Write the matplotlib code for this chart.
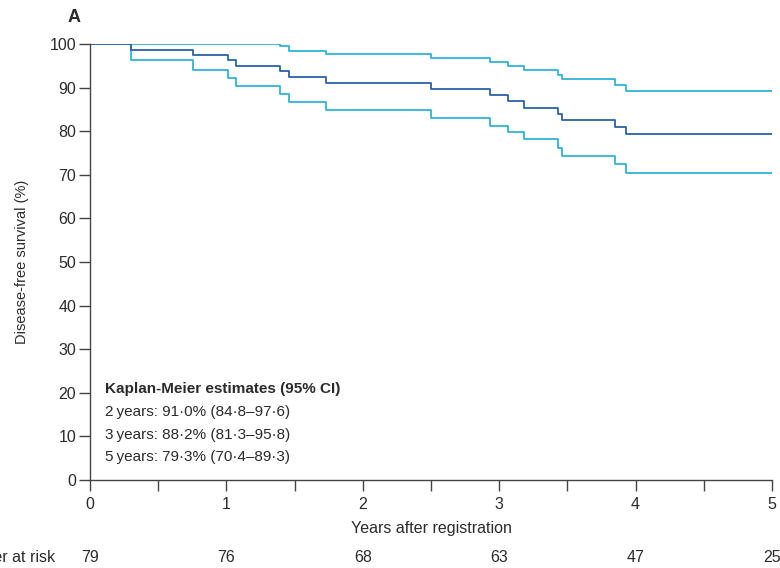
import matplotlib.pyplot as plt
from matplotlib.ticker import MultipleLocator
from matplotlib.transforms import blended_transform_factory

plt.rcParams['font.family'] = ['Liberation Sans Narrow', 'Liberation Sans', 'DejaVu Sans']

# step times (years) and survival estimates (%)
times = [0, 0.298, 0.753, 1.014, 1.07, 1.393, 1.459, 1.73, 2.497, 2.93, 3.065,
         3.184, 3.431, 3.463, 3.849, 3.927, 5]
surv = [100, 98.7, 97.5, 96.3, 95.0, 93.7, 92.4, 91.0, 89.7, 88.2, 86.9,
        85.4, 83.9, 82.6, 80.9, 79.3, 79.3]
upper = [100, 100, 100, 100, 100, 99.6, 98.5, 97.6, 96.7, 95.8, 95.0,
         94.0, 92.8, 91.9, 90.7, 89.3, 89.3]
lower = [100, 96.4, 94.0, 92.1, 90.4, 88.6, 86.8, 84.8, 83.1, 81.3, 79.8,
         78.1, 76.1, 74.3, 72.5, 70.4, 70.4]

risk_years = [0, 1, 2, 3, 4, 5]
at_risk = [79, 76, 68, 63, 47, 25]

estimates = [
    "2\u2009years: 91\u00b70% (84\u00b78\u201397\u00b76)",
    "3\u2009years: 88\u00b72% (81\u00b73\u201395\u00b78)",
    "5\u2009years: 79\u00b73% (70\u00b74\u201389\u00b73)",
]

TEXT = "#2b2b2b"
DARK = "#2a62a6"
CYAN = "#2fb3d6"

fig = plt.figure(figsize=(7.8, 5.68), dpi=100)
ax = fig.add_axes([90 / 780, 1 - 480 / 568, 682 / 780, 436 / 568])

ax.step(times, upper, where="post", color=CYAN, lw=1.3)
ax.step(times, lower, where="post", color=CYAN, lw=1.3)
ax.step(times, surv, where="post", color=DARK, lw=1.3)

ax.set_xlim(0, 5)
ax.set_ylim(0, 100)
ax.spines["top"].set_visible(False)
ax.spines["right"].set_visible(False)
for s in ("left", "bottom"):
    ax.spines[s].set_color("#444444")
    ax.spines[s].set_linewidth(1.0)

ax.yaxis.set_major_locator(MultipleLocator(10))
ax.xaxis.set_major_locator(MultipleLocator(1))
ax.xaxis.set_minor_locator(MultipleLocator(0.5))
ax.tick_params(axis="both", which="both", direction="out", length=8, width=1.0,
               color="#444444", labelcolor=TEXT, labelsize=11.5)
ax.tick_params(axis="x", pad=4)
ax.tick_params(axis="y", pad=2)

ax.set_xlabel("Years after registration", fontsize=11.5, color=TEXT, labelpad=7)
ax.set_ylabel("Disease-free survival (%)", fontsize=10.5, color=TEXT, labelpad=15)

fig.text(68 / 780, 1 - 18 / 568, "A", fontsize=13, fontweight="bold", color=TEXT,
         ha="left", va="center")

ax.text(0.022, (480 - 389) / 436, "Kaplan-Meier estimates (95% CI)",
        transform=ax.transAxes, fontsize=11, fontweight="bold", color=TEXT, va="center")
for i, line in enumerate(estimates):
    ax.text(0.022, (480 - 412 - i * 22.5) / 436, line, transform=ax.transAxes,
            fontsize=11, color=TEXT, va="center")

trans = blended_transform_factory(ax.transData, ax.transAxes)
for yr, n in zip(risk_years, at_risk):
    ax.text(yr, -(557 - 480) / 436, str(n), transform=trans, ha="center",
            va="center", fontsize=11.5, color=TEXT, clip_on=False)
fig.text(55 / 780, 1 - 557 / 568, "Number at risk", ha="right", va="center",
         fontsize=11.5, color=TEXT)

fig.savefig("out.png", dpi=100)
